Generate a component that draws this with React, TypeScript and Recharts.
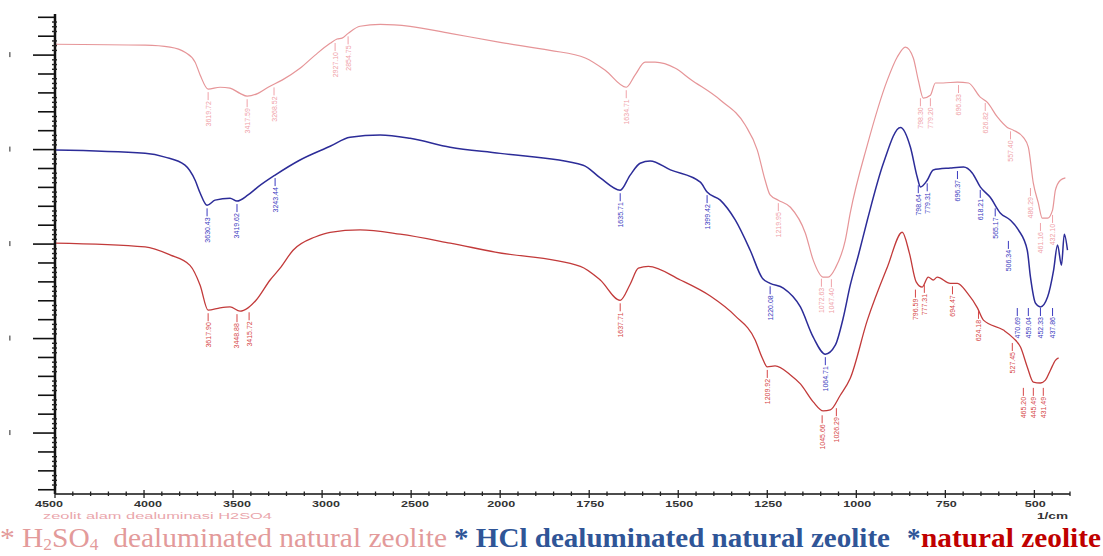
import React from 'react';
import { ComposedChart, Line, Scatter, XAxis, YAxis } from 'recharts';

// wavenumber (1/cm) and transmittance
const h2so4Wave = [
  4500, 3994, 3854, 3770, 3713, 3685, 3640, 3573, 3517, 3461, 3421, 3360, 3303, 3225, 3124, 3039,
  2955, 2916, 2888, 2854, 2787, 2674, 2506, 2281, 2000, 1860, 1761, 1705, 1646, 1621, 1593, 1565,
  1508, 1466, 1382, 1312, 1278, 1256, 1242, 1219, 1185, 1143, 1121, 1093, 1079, 1059, 1031, 1017,
  969, 913, 885, 862, 840, 826, 812, 792, 778, 756, 716, 685, 652, 632, 604, 576, 559, 531, 517,
  503, 489, 478, 463, 449, 441, 427, 413,
];
const h2so4Trans = [
  102.3, 102.1, 101.7, 100.6, 98.5, 95.8, 92.8, 93.2, 93.0, 91.9, 91.3, 91.9, 93.2, 94.7, 97.2, 100.0,
  102.5, 103.4, 103.6, 104.6, 106.1, 106.5, 106.1, 104.6, 102.7, 101.0, 99.4, 96.8, 93.2, 95.8, 98.5, 98.5,
  97.2, 94.9, 90.5, 85.2, 79.9, 73.5, 70.4, 69.3, 67.8, 62.3, 56.6, 53.0, 53.0, 54.9, 60.8, 66.6,
  81.0, 94.7, 99.6, 101.7, 99.4, 94.7, 90.9, 91.5, 94.1, 94.1, 94.3, 94.1, 91.1, 90.0, 86.9, 84.7, 84.1, 82.6, 80.5,
  72.9, 68.7, 65.5, 65.5, 67.2, 71.4, 73.5, 74.0,
];

const hclWave = [
  4500, 3994, 3882, 3770, 3713, 3685, 3646, 3601, 3517, 3478, 3416, 3360, 3264, 3124, 2955, 2843,
  2674, 2506, 2281, 2000, 1767, 1719, 1663, 1635, 1607, 1579, 1522, 1438, 1419, 1382, 1340, 1298,
  1264, 1242, 1205, 1157, 1121, 1087, 1059, 1037, 1017, 994, 969, 924, 876, 848, 829, 820, 801, 784,
  736, 699, 674, 652, 624, 596, 568, 545, 520, 511, 497, 483, 463, 446, 435, 424, 416, 407,
];
const hclTrans = [
  79.9, 79.2, 78.4, 76.7, 73.5, 70.8, 68.2, 69.3, 69.7, 69.1, 70.4, 72.1, 74.6, 77.8, 80.7, 82.6,
  83.1, 82.4, 80.5, 79.2, 76.7, 74.0, 71.4, 74.6, 77.1, 77.6, 75.7, 73.1, 71.0, 69.3, 65.1, 58.7,
  52.8, 51.7, 50.7, 46.7, 40.3, 36.7, 38.6, 44.3, 51.3, 57.7, 65.1, 77.1, 84.7, 80.5, 74.2, 72.1, 73.5, 75.7,
  76.1, 76.3, 75.0, 72.1, 69.9, 66.6, 65.1, 63.0, 58.7, 53.0, 47.5, 46.7, 48.8, 54.5, 59.8, 55.5, 62.1, 58.7,
];

const naturalWave = [
  4500, 3994, 3854, 3742, 3685, 3640, 3573, 3517, 3461, 3416, 3371, 3292, 3236, 3163, 3039, 2955,
  2787, 2562, 2281, 2028, 1775, 1719, 1663, 1635, 1612, 1584, 1494, 1410, 1340, 1284, 1264, 1250,
  1228, 1185, 1157, 1121, 1093, 1073, 1045, 1017, 969, 913, 871, 851, 832, 815, 798, 784, 773, 736,
  716, 688, 660, 643, 587, 559, 539, 520, 503, 483, 469, 455, 441, 432,
];
const naturalTrans = [
  60.2, 59.4, 57.7, 55.5, 51.3, 46.0, 46.5, 46.7, 45.8, 46.5, 48.1, 52.4, 54.9, 58.7, 61.5, 62.5,
  63.0, 62.1, 60.2, 58.3, 55.3, 52.4, 48.1, 51.5, 54.9, 55.3, 52.4, 49.0, 44.8, 39.7, 35.9, 34.0,
  34.2, 32.3, 30.4, 26.6, 24.7, 24.9, 28.0, 31.6, 43.9, 55.1, 62.5, 58.1, 52.0, 50.9, 53.0, 52.4, 53.0, 51.7,
  51.7, 49.6, 46.5, 43.9, 41.8, 40.1, 38.2, 34.0, 30.8, 30.6, 31.2, 33.3, 35.4, 35.9,
];

// picked peaks: where the mark sits, transmittance there, printed value
const h2so4PeakWave = [3640, 3421, 3270, 2927, 2854, 1646, 1219, 1098, 1070, 820, 792, 713, 638, 567, 511, 483, 449];
const h2so4PeakTrans = [92.8, 91.3, 93.8, 103.2, 104.6, 93.2, 69.3, 53.3, 53.2, 91.5, 91.5, 94.3, 90.5, 84.5, 72.5, 65.1, 66.8];
const h2so4PeakLabel = [
  '3619.72', '3417.59', '3268.52', '2927.10', '2854.75', '1634.71', '1219.95', '1072.63', '1047.40',
  '798.30', '779.20', '696.33', '626.82', '557.40', '486.29', '461.16', '432.10',
];

const hclPeakWave = [3646, 3478, 3264, 1663, 1419, 1242, 1087, 826, 801, 716, 652, 610, 573, 548, 517, 483, 449];
const hclPeakTrans = [68.2, 69.1, 74.6, 71.4, 71.0, 51.7, 36.7, 73.1, 73.5, 76.1, 72.1, 68.2, 61.3, 47.1, 47.1, 47.1, 47.1];
const hclPeakLabel = [
  '3630.43', '3419.62', '3243.44', '1635.71', '1399.42', '1220.08', '1064.71', '798.64', '779.31',
  '696.37', '618.21', '565.17', '506.34', '470.69', '459.04', '452.33', '437.86',
];

const naturalPeakWave = [3640, 3478, 3410, 1663, 1250, 1096, 1056, 834, 809, 730, 657, 562, 531, 503, 475];
const naturalPeakTrans = [46.0, 45.8, 46.2, 48.1, 34.0, 24.4, 25.9, 51.0, 52.0, 51.7, 46.5, 39.7, 30.2, 30.2, 30.2];
const naturalPeakLabel = [
  '3617.90', '3448.88', '3415.72', '1637.71', '1209.92', '1045.66', '1026.29', '796.59', '777.31',
  '694.47', '624.18', '527.45', '465.20', '445.49', '431.49',
];

const xLabels = [4500, 4000, 3500, 3000, 2500, 2000, 1750, 1500, 1250, 1000, 750, 500];

// the instrument plots 4500-2000 at half the scale of 2000-400
const toT = (w: number) => (w >= 2000 ? (4500 - w) / 2 : 1250 + (2000 - w));
const fromT = (t: number) => (t <= 1250 ? 4500 - t * 2 : 2000 - (t - 1250));

const series = (waves: number[], vals: number[]) => waves.map((w, i) => ({ t: toT(w), v: vals[i] }));
const peaks = (waves: number[], vals: number[], labels: string[]) =>
  waves.map((w, i) => ({ t: toT(w), v: vals[i], label: labels[i] }));

const xTicks: number[] = [];
for (let w = 4500; w >= 2000; w -= 100) xTicks.push(toT(w));
for (let w = 1950; w >= 400; w -= 50) xTicks.push(toT(w));

const yTicks: number[] = [];
for (let v = 8; v <= 108; v++) yTicks.push(v);

const PINK = '#e69598';
const BLUE = '#2c2c98';
const RED = '#c23a3a';

const XTick = (props: any) => {
  const { x, y, payload } = props;
  const w = Math.round(fromT(payload.value));
  const major = xLabels.includes(w);
  const dx = w === 4500 ? -6 : w > 2000 ? 4 : 1;
  const len = String(w).length * 7;
  return (
    <g>
      <line x1={x} x2={x} y1={y - (major ? 4 : 2.5)} y2={y + (major ? 4 : 2)} stroke="#222" strokeWidth={1.3} />
      {major && (
        <text
          x={x + dx - len / 2}
          y={y + 13}
          fontSize={8.5}
          fontWeight="bold"
          fill="#333"
          fontFamily="'Liberation Sans', Arial, sans-serif"
          textLength={len}
          lengthAdjust="spacingAndGlyphs"
        >
          {w}
        </text>
      )}
    </g>
  );
};

const YTick = (props: any) => {
  const { x, y, payload } = props;
  const v = payload.value;
  if (v % 20 === 0) {
    return (
      <g>
        <line x1={x - 22} x2={x} y1={y} y2={y} stroke="#111" strokeWidth={1.6} />
        <rect x={9} y={y - 3} width={1.6} height={5} fill="#777" />
      </g>
    );
  }
  if (v % 4 === 0) {
    return <line x1={x - 17} x2={x} y1={y} y2={y} stroke="#111" strokeWidth={1.6} />;
  }
  return <line x1={x - 3} x2={x + 2} y1={y} y2={y} stroke="#222" strokeWidth={1.4} />;
};

const peakShape = (color: string) => (props: any) => {
  const { cx, cy, payload } = props;
  return (
    <g>
      <line x1={cx} x2={cx} y1={cy + 3} y2={cy + 11} stroke={color} strokeWidth={1} />
      <text
        transform={`translate(${cx + 2.5},${cy + 12}) rotate(-90)`}
        textAnchor="end"
        fontSize={7}
        fill={color}
        fontFamily="'Liberation Sans Narrow', 'Liberation Sans', Arial, sans-serif"
      >
        {payload.label}
      </text>
    </g>
  );
};

const SERIF = "'Liberation Serif', 'Times New Roman', serif";

export default function App() {
  return (
    <div style={{ position: 'absolute', left: 0, top: 0, width: 1103, height: 556, background: '#fff' }}>
      <ComposedChart width={1103} height={556} margin={{ top: 14, right: 33, bottom: 32, left: 5 }}>
        <XAxis
          type="number"
          dataKey="t"
          domain={[0, 2850]}
          allowDataOverflow
          ticks={xTicks}
          interval={0}
          tickSize={0}
          tickMargin={0}
          tickLine={false}
          height={30}
          axisLine={{ stroke: '#111', strokeWidth: 1.5 }}
          tick={<XTick />}
        />
        <YAxis
          type="number"
          domain={[7.1, 108.7]}
          allowDataOverflow
          ticks={yTicks}
          interval={0}
          tickSize={0}
          tickMargin={0}
          tickLine={false}
          width={50}
          axisLine={{ stroke: '#111', strokeWidth: 2.5 }}
          tick={<YTick />}
        />
        <Line data={series(h2so4Wave, h2so4Trans)} dataKey="v" type="monotone" stroke={PINK} strokeWidth={1.2} dot={false} isAnimationActive={false} />
        <Line data={series(hclWave, hclTrans)} dataKey="v" type="monotone" stroke={BLUE} strokeWidth={1.5} dot={false} isAnimationActive={false} />
        <Line data={series(naturalWave, naturalTrans)} dataKey="v" type="monotone" stroke={RED} strokeWidth={1.3} dot={false} isAnimationActive={false} />
        <Scatter data={peaks(h2so4PeakWave, h2so4PeakTrans, h2so4PeakLabel)} dataKey="v" shape={peakShape('#f0a2a8')} isAnimationActive={false} />
        <Scatter data={peaks(hclPeakWave, hclPeakTrans, hclPeakLabel)} dataKey="v" shape={peakShape('#3a3ac0')} isAnimationActive={false} />
        <Scatter data={peaks(naturalPeakWave, naturalPeakTrans, naturalPeakLabel)} dataKey="v" shape={peakShape('#d64646')} isAnimationActive={false} />
      </ComposedChart>
      <svg width={1103} height={556} style={{ position: 'absolute', left: 0, top: 0, pointerEvents: 'none' }}>
        <text x={43} y={519} fontSize={8.5} fill="#eaa6ac" fontFamily="'Liberation Sans', Arial, sans-serif" textLength={229} lengthAdjust="spacingAndGlyphs">
          zeolit alam dealuminasi H2SO4
        </text>
        <text x={1037} y={519} fontSize={8.5} fill="#333" fontWeight="bold" fontFamily="'Liberation Sans', Arial, sans-serif" textLength={31} lengthAdjust="spacingAndGlyphs">
          1/cm
        </text>
        <text x={0} y={547} fontSize={27} fill="#e39a9a" fontFamily={SERIF} textLength={447} lengthAdjust="spacingAndGlyphs">
          * H<tspan fontSize={16} dy={3}>2</tspan>
          <tspan dy={-3}>SO</tspan>
          <tspan fontSize={16} dy={3}>4</tspan>
          <tspan dy={-3}>{'\u00a0 dealuminated natural zeolite'}</tspan>
        </text>
        <text x={454} y={547} fontSize={27} fontWeight="bold" fill="#2f5597" fontFamily={SERIF} textLength={436} lengthAdjust="spacingAndGlyphs">
          * HCl dealuminated natural zeolite
        </text>
        <text x={907} y={547} fontSize={27} fontWeight="bold" fill="#2f5597" fontFamily={SERIF}>
          *
        </text>
        <text x={921} y={547} fontSize={27} fontWeight="bold" fill="#c00000" fontFamily={SERIF} textLength={180} lengthAdjust="spacingAndGlyphs">
          natural zeolite
        </text>
      </svg>
    </div>
  );
}
